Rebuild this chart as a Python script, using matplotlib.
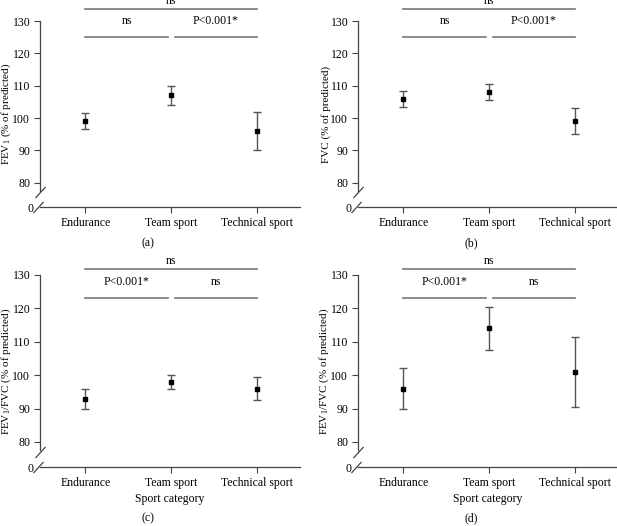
import matplotlib
matplotlib.use("Agg")
import matplotlib.pyplot as plt
import numpy as np

plt.rcParams["font.family"] = ["Liberation Serif", "DejaVu Serif"]
plt.rcParams["mathtext.fontset"] = "custom"
plt.rcParams["mathtext.rm"] = "Liberation Serif"

CATEGORIES = ["Endurance", "Team sport", "Technical sport"]
PANEL_TAGS = ["(a)", "(b)", "(c)", "(d)"]
YLABELS = [
    "FEV$_1$ (% of predicted)",
    "FVC (% of predicted)",
    "FEV$_1$/FVC (% of predicted)",
    "FEV$_1$/FVC (% of predicted)",
]

# mean, lower, upper per category
MEANS = [
    [99, 107, 96],
    [106, 108, 99],
    [93, 98, 96],
    [96, 114, 101],
]
LOWER = [
    [96.5, 104, 90],
    [103.5, 105.5, 95],
    [90, 96, 92.5],
    [90, 107.5, 90.5],
]
UPPER = [
    [101.5, 110, 102],
    [108.5, 110.5, 103],
    [96, 100, 99.5],
    [102, 120.5, 111.5],
]

# comparisons: (Endurance-Team, Team-Technical, Endurance-Technical)
SIG_LABELS = [
    ["ns", "P<0.001*", "ns"],
    ["ns", "P<0.001*", "ns"],
    ["P<0.001*", "ns", "ns"],
    ["P<0.001*", "ns", "ns"],
]
SIG_LEVELS = [(125, 133.7), (125, 133.7), (123, 131.8), (123, 131.8)]

YTICKS = [80, 90, 100, 110, 120, 130]
Y_ZERO = 72.5  # where the broken "0" sits

W, H = 617, 526
AX_RECTS = [
    (40, 21, 260, 186),
    (358, 21, 260, 186),
    (40, 275, 260, 192),
    (358, 275, 260, 192),
]

AXIS_COLOR = "#444444"
SIG_COLOR = "#777777"
FS = 8.5


def draw_panel(fig, k):
    x0, y0, w, h = AX_RECTS[k]
    ax = fig.add_axes([x0 / W, 1 - (y0 + h) / H, w / W, h / H])
    xs = np.arange(len(CATEGORIES))
    m = np.array(MEANS[k])
    err = np.vstack([m - np.array(LOWER[k]), np.array(UPPER[k]) - m])
    ax.errorbar(xs, m, yerr=err, fmt="s", color="black", markersize=3.5,
                ecolor="#555555", elinewidth=1.0, capsize=3, capthick=1.0)

    ax.set_xlim(-0.53, 2.5)
    ax.set_ylim(Y_ZERO, 130)
    ax.set_xticks(xs, CATEGORIES)
    ax.set_yticks(YTICKS)
    ax.set_yticks([Y_ZERO], ["0"], minor=True)
    ax.tick_params(axis="both", which="major", labelsize=FS, color=AXIS_COLOR,
                   length=4, width=0.8, pad=3)
    ax.tick_params(axis="y", which="minor", length=0, pad=5, labelsize=FS)
    ax.tick_params(axis="x", pad=3)

    for s in ("top", "right"):
        ax.spines[s].set_visible(False)
    for s in ("left", "bottom"):
        ax.spines[s].set_color(AXIS_COLOR)
        ax.spines[s].set_linewidth(0.9)
    ax.spines["left"].set_bounds(77.5, 130)

    slash = [(-1, -1.1), (1, 1.1)]
    ax.plot([-0.53], [77.1], marker=slash, markersize=8, color=AXIS_COLOR,
            markeredgewidth=0.9, clip_on=False)
    ax.plot([-0.555], [Y_ZERO + 0.1], marker=slash, markersize=8, color=AXIS_COLOR,
            markeredgewidth=0.9, clip_on=False)

    ax.set_ylabel(YLABELS[k], fontsize=8)
    ax.yaxis.set_label_coords(-0.105, 0.5)
    if k >= 2:
        ax.set_xlabel("Sport category", fontsize=FS, labelpad=3)

    low, high = SIG_LEVELS[k]
    labels = SIG_LABELS[k]
    kw = dict(color=SIG_COLOR, lw=1.2, clip_on=False)
    ax.plot([0, 0.96], [low, low], **kw)
    ax.plot([1.04, 2], [low, low], **kw)
    ax.plot([0, 2], [high, high], **kw)
    ax.text(0.48, low + 3.1, labels[0], ha="center", va="bottom", fontsize=FS)
    ax.text(1.52, low + 3.1, labels[1], ha="center", va="bottom", fontsize=FS)
    ax.text(1.0, high + 0.6, labels[2], ha="center", va="bottom", fontsize=FS)

    tag_y = 243 if k < 2 else 518
    tag_x = 148 if k % 2 == 0 else 471
    fig.text(tag_x / W, 1 - tag_y / H, PANEL_TAGS[k], ha="center", va="center", fontsize=FS)
    return ax


def main():
    fig = plt.figure(figsize=(W / 100, H / 100), dpi=100)
    for k in range(4):
        draw_panel(fig, k)
    fig.savefig("out.png", dpi=100)
    plt.close(fig)


if __name__ == "__main__":
    main()
